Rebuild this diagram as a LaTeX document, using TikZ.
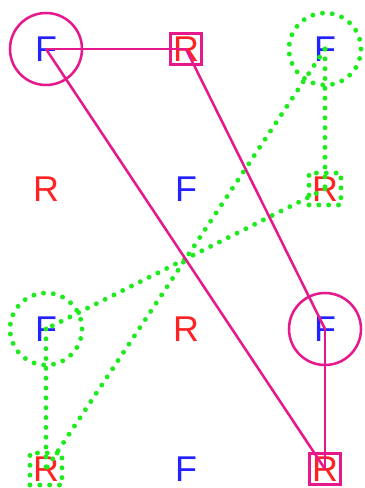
\documentclass[tikz,border=0pt]{standalone}
\usepackage{fontspec}
\setmainfont{Liberation Sans}
\definecolor{linkpink}{HTML}{E6198C}
\definecolor{linkgreen}{HTML}{1EEB1E}
\definecolor{letterblue}{HTML}{2222FF}
\definecolor{letterred}{HTML}{FF2222}
\begin{document}
\begin{tikzpicture}[font=\fontsize{25.5}{30}\selectfont,
    fletter/.style={text=letterblue,inner sep=0pt},
    rletter/.style={text=letterred,inner sep=0pt},
    pinkring/.style={circle,draw=linkpink,line width=1.8pt,minimum size=1.8cm},
    pinkbox/.style={rectangle,draw=linkpink,line width=1.8pt,minimum size=.78cm},
    greenring/.style={circle,draw=linkgreen,line width=3.5pt,line cap=round,
      dash pattern=on 0pt off 7pt,minimum size=1.8cm},
    greenbox/.style={rectangle,draw=linkgreen,line width=3.5pt,line cap=round,
      dash pattern=on 0pt off 7pt,minimum size=.8cm},
    pinklink/.style={draw=linkpink,line width=1.8pt},
    greenlink/.style={draw=linkgreen,line width=3.5pt,line cap=round,
      dash pattern=on 0pt off 7pt}]
    \useasboundingbox (0,0) rectangle (9.125,-12.2);

    % top row
    \node[fletter,pinkring] (f11) at (1.15,-1.225) {F};
    \node[rletter,pinkbox] (r12) at (4.65,-1.225) {R};
    \node[fletter,greenring] (f13) at (8.125,-1.225) {F};

    % second row
    \node[rletter] (r21) at (1.15,-4.725) {R};
    \node[fletter] (f22) at (4.65,-4.725) {F};
    \node[rletter,greenbox] (r23) at (8.125,-4.725) {R};

    % third row
    \node[fletter,greenring] (f31) at (1.15,-8.225) {F};
    \node[rletter] (r32) at (4.65,-8.225) {R};
    \node[fletter,pinkring] (f33) at (8.125,-8.225) {F};

    % bottom row
    \node[rletter,greenbox] (r41) at (1.15,-11.725) {R};
    \node[fletter] (f42) at (4.65,-11.725) {F};
    \node[rletter,pinkbox] (r43) at (8.125,-11.725) {R};

    % dotted links
    \path[greenlink] (f13.center) -- (r23.center);
    \path[greenlink] (f13.center) -- (r41.center);
    \path[greenlink] (r23.center) -- (f31.center);
    \path[greenlink] (f31.center) -- (r41.center);

    % solid links
    \path[pinklink] (f11.center) -- (r12.center);
    \path[pinklink] (r12.center) -- (f33.center);
    \path[pinklink] (f33.center) -- (r43.center);
    \path[pinklink] (f11.center) -- (r43.center);
  \end{tikzpicture}
\end{document}
